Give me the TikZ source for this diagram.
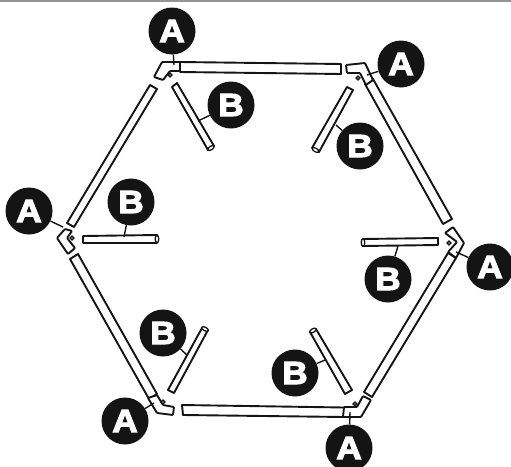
\documentclass[tikz,border=0pt]{standalone}
\usepackage{fontspec}
\newfontfamily\badgefont{Liberation Sans}[BoldFeatures={FakeBold=3.6,FakeStretch=1.1}]
\definecolor{ink}{HTML}{141414}
\tikzset{
  tube/.style={draw=ink,fill=white,line width=1.9pt,line join=round},
  elbow/.style={draw=ink,fill=white,line width=1.9pt,line join=round,rounded corners=0.8pt},
  nut/.style={draw=ink,fill=white,line width=1.4pt},
  rodend/.style={draw=ink,fill=white,line width=1.3pt},
  badge/.style={circle,fill=ink,text=white,minimum size=47pt,inner sep=0pt,font=\badgefont\bfseries\fontsize{32}{32}\selectfont},
  leader/.style={draw=ink,line width=1.4pt}
}
\begin{document}
\begin{tikzpicture}[x=1pt,y=-1pt]
\useasboundingbox (0,0) rectangle (511,466);
\fill[black!42] (0,0) rectangle (511,2);
% frame tubes
\draw[tube] (180,62)--(341,64)--(341,74)--(180,72)--cycle;
\draw[tube] (150,85)--(157,89)--(74,227)--(67,223)--cycle;
\draw[tube] (70,259)--(78,254)--(157,394)--(149,399)--cycle;
\draw[tube] (182,405)--(344,407.5)--(344,417)--(183,415)--cycle;
\draw[tube] (364,392)--(372,397)--(456,258)--(448,253)--cycle;
\draw[tube] (365,84)--(373,79)--(452,219)--(443,224)--cycle;
% corner elbows
\draw[elbow] (162,62)--(180,62)--(180,71)--(170,71)--(163,80)--(154,77)--cycle;
\draw[elbow] (346,65)--(365,63)--(373,80)--(366,85)--(360,73)--(347,73)--cycle;
\draw[elbow] (445,233)--(453,227)--(464,243)--(456,258)--(448,252)--(457,242)--cycle;
\draw[elbow] (344,407)--(357,407)--(363,396)--(371,400)--(361,417)--(343,417)--cycle;
\draw[elbow] (148,398)--(157,395)--(163,405)--(174,407)--(173,415)--(157,413)--cycle;
\draw[elbow] (65,229)--(72,231)--(67,238)--(75,248)--(68,254)--(57,238)--cycle;
% nuts
\draw[nut] (170,75) circle (1.8pt);
\draw[nut] (358,78) circle (1.8pt);
\draw[nut] (449,243) circle (1.8pt);
\draw[nut] (355,404) circle (1.8pt);
\draw[nut] (163,402) circle (1.8pt);
\draw[nut] (72,238) circle (1.8pt);
% loose rods
\draw[tube] (172,87)--(177,83)--(214,146)--(208,150)--cycle;
\draw[rodend] (211,148) ellipse [x radius=3.6pt,y radius=1.8pt,rotate=32];
\draw[tube] (347,87)--(353,90)--(319,152)--(312,148)--cycle;
\draw[rodend] (315.5,150) ellipse [x radius=3.6pt,y radius=1.8pt,rotate=-30];
\draw[tube] (83,236)--(157,235)--(157,243)--(83,243)--cycle;
\draw[rodend] (157,239) ellipse [x radius=1.8pt,y radius=3.8pt];
\draw[tube] (363,239)--(438,238)--(438,245)--(363,246)--cycle;
\draw[rodend] (363,242.5) ellipse [x radius=1.8pt,y radius=3.8pt];
\draw[tube] (310,332)--(316,329)--(352,390)--(345,394)--cycle;
\draw[rodend] (313,330.5) ellipse [x radius=3.6pt,y radius=1.8pt,rotate=30];
\draw[tube] (202,328)--(208,330)--(174,393)--(168,390)--cycle;
\draw[rodend] (205,329) ellipse [x radius=3.6pt,y radius=1.8pt,rotate=-28];
% badges
\node[badge] (a1) at (172,31) {A};
\node[badge] (a2) at (401,64) {A};
\node[badge] (a3) at (490,267) {A};
\node[badge] (a4) at (349,448) {A};
\node[badge] (a5) at (125,421) {A};
\node[badge] (a6) at (29,211) {A};
\node[badge] (b1) at (231,105) {B};
\node[badge] (b2) at (360,146) {B};
\node[badge] (b3) at (388,279) {B};
\node[badge] (b4) at (295,373) {B};
\node[badge] (b5) at (163,333) {B};
\node[badge] (b6) at (131,202) {B};
% leader ends
\coordinate (ta1) at (174,65);
\coordinate (ta2) at (367,75);
\coordinate (ta3) at (456,252);
\coordinate (ta4) at (350,412);
\coordinate (ta5) at (154,403);
\coordinate (ta6) at (63,227);
\coordinate (tb1) at (198,121);
\coordinate (tb2) at (336,125);
\coordinate (tb3) at (398,246);
\coordinate (tb4) at (325,360);
\coordinate (tb5) at (187,355);
\coordinate (tb6) at (124,237);
\draw[leader] (a1)--(ta1);
\draw[leader] (a2)--(ta2);
\draw[leader] (a3)--(ta3);
\draw[leader] (a4)--(ta4);
\draw[leader] (a5)--(ta5);
\draw[leader] (a6)--(ta6);
\draw[leader] (b1)--(tb1);
\draw[leader] (b2)--(tb2);
\draw[leader] (b3)--(tb3);
\draw[leader] (b4)--(tb4);
\draw[leader] (b5)--(tb5);
\draw[leader] (b6)--(tb6);
\end{tikzpicture}
\end{document}
